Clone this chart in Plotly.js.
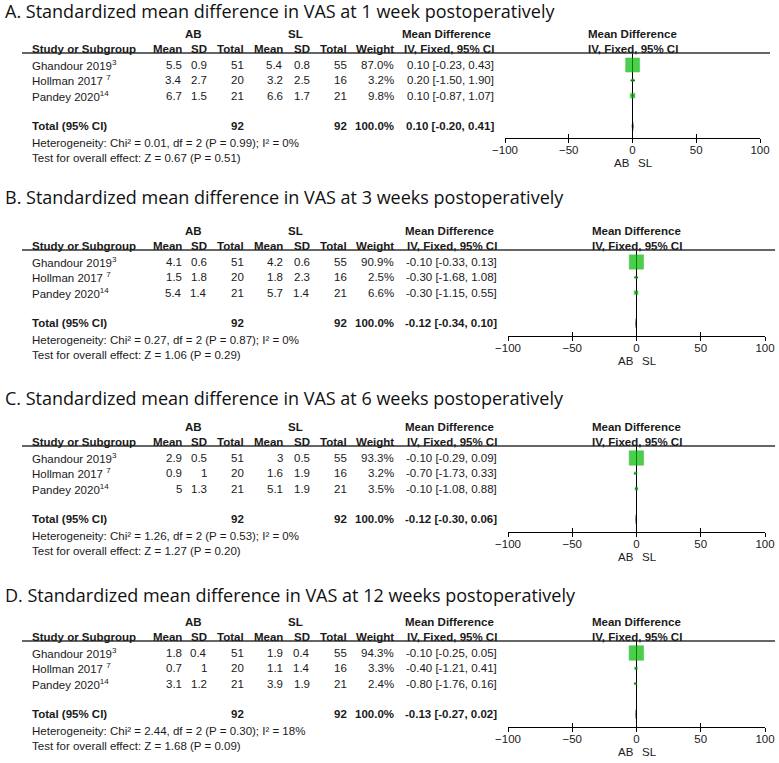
<!DOCTYPE html>
<html><head><meta charset="utf-8">
<script src="https://cdn.plot.ly/plotly-3.0.1.min.js"></script>
<style>html,body{margin:0;padding:0;background:#fff}#chart{width:779px;height:763px}</style>
</head><body><div id="chart"></div><script>
// ---------------- data ----------------
const panelTitles = [
  'A. Standardized mean difference in VAS at 1 week postoperatively',
  'B. Standardized mean difference in VAS at 3 weeks postoperatively',
  'C. Standardized mean difference in VAS at 6 weeks postoperatively',
  'D. Standardized mean difference in VAS at 12 weeks postoperatively'
];
const studies = ['Ghandour 2019', 'Hollman 2017 ', 'Pandey 2020'];
const studyRefs = ['3', '7', '14'];
const abMean = [[5.5, 3.4, 6.7], [4.1, 1.5, 5.4], [2.9, 0.9, 5], [1.8, 0.7, 3.1]];
const abSD   = [[0.9, 2.7, 1.5], [0.6, 1.8, 1.4], [0.5, 1, 1.3], [0.4, 1, 1.2]];
const abTotal = [51, 20, 21];
const slMean = [[5.4, 3.2, 6.6], [4.2, 1.8, 5.7], [3, 1.6, 5.1], [1.9, 1.1, 3.9]];
const slSD   = [[0.8, 2.5, 1.7], [0.6, 2.3, 1.4], [0.5, 1.9, 1.9], [0.4, 1.4, 1.9]];
const slTotal = [55, 16, 21];
const weights = [[87.0, 3.2, 9.8], [90.9, 2.5, 6.6], [93.3, 3.2, 3.5], [94.3, 3.3, 2.4]];
const meanDiff = [[0.10, 0.20, 0.10], [-0.10, -0.30, -0.30], [-0.10, -0.70, -0.10], [-0.10, -0.40, -0.80]];
const ciLow  = [[-0.23, -1.50, -0.87], [-0.33, -1.68, -1.15], [-0.29, -1.73, -1.08], [-0.25, -1.21, -1.76]];
const ciHigh = [[0.43, 1.90, 1.07], [0.13, 1.08, 0.55], [0.09, 0.33, 0.88], [0.05, 0.41, 0.16]];
const totalMD   = [0.10, -0.12, -0.12, -0.13];
const totalLow  = [-0.20, -0.34, -0.30, -0.27];
const totalHigh = [0.41, 0.10, 0.06, 0.02];
const totalAB = 92, totalSL = 92;
const chi2 = [0.01, 0.27, 1.26, 2.44];
const hetDf = [2, 2, 2, 2];
const hetP = ['0.99', '0.87', '0.53', '0.30'];
const iSq = [0, 0, 0, 18];
const zVal = ['0.67', '1.06', '1.27', '1.68'];
const zP = ['0.51', '0.29', '0.20', '0.09'];
const xTicks = [-100, -50, 0, 50, 100];
const favourLabels = ['AB', 'SL'];

// ---------------- layout constants ----------------
const W = 779, H = 763;
const rowH = 15.33;
const rowTop = [65, 262, 458, 653];
const titleY = [11, 197, 398, 595];
const axisOff = [73, 74, 74, 74];
const forestX = [[505, 760], [508, 765], [508, 765], [508, 765]];
const ciRight = [494, 497, 497, 497];
const lineRight = [770, 775, 775, 775];
const TF = 'Liberation Sans, Arial, sans-serif';
const TS = 11.5;
const TC = '#1a1a1a';
const px = v => v / W;
const py = v => 1 - v / H;
const fmt2 = v => v.toFixed(2);
const ciText = (m, l, h) => fmt2(m) + ' [' + fmt2(l) + ', ' + fmt2(h) + ']';

const traces = [];
const annotations = [];
const shapes = [];
const layout = {
  width: W, height: H, margin: {l: 0, r: 0, t: 0, b: 0},
  paper_bgcolor: '#fff', plot_bgcolor: '#fff', showlegend: false,
  font: {family: TF, size: TS, color: TC}
};

function ann(text, x, y, xanchor, opts) {
  annotations.push(Object.assign({
    text: text, x: x, y: y, xref: 'paper', yref: 'paper', xanchor: xanchor, yanchor: 'middle',
    showarrow: false, borderpad: 0, borderwidth: 0,
    font: {family: TF, size: TS, color: TC}
  }, opts || {}));
}
const bold = t => '<b>' + t + '</b>';

for (let k = 0; k < 4; k++) {
  const s = k === 0 ? '' : String(k + 1);
  const xo = 'x' + (k + 5);
  const top = rowTop[k];
  const axPx = top + axisOff[k];
  const hdrPx = top - 12;
  const [fx0, fx1] = forestX[k];
  const zeroPx = (fx0 + fx1) / 2;
  const yRef = 'y' + s;

  layout['yaxis' + s] = {
    domain: [py(axPx), py(hdrPx)],
    range: [(axPx - top) / rowH, (hdrPx - top) / rowH],
    visible: false, fixedrange: true
  };
  layout['xaxis' + s] = {
    domain: [px(fx0), px(fx1)], range: [-100, 100], anchor: yRef,
    showline: true, linecolor: '#000', linewidth: 1,
    ticks: 'outside', ticklen: 4, tickwidth: 1, tickcolor: '#000',
    tickvals: xTicks, tickfont: {family: TF, size: 11.5, color: TC}, ticklabelstandoff: -3,
    showgrid: false, zeroline: true, zerolinecolor: '#000', zerolinewidth: 1, fixedrange: true
  };
  layout['xaxis' + (k + 5)] = {
    overlaying: 'x' + s, anchor: yRef, range: [-100, 100],
    ticks: 'inside', ticklen: 4, tickwidth: 1, tickcolor: '#000', tickvals: xTicks,
    showticklabels: false, showline: false, showgrid: false, zeroline: false, fixedrange: true
  };

  const rows = [0, 1, 2];
  // CI lines + squares
  traces.push({
    type: 'scatter', mode: 'markers', xaxis: 'x' + s, yaxis: yRef,
    x: meanDiff[k], y: rows,
    error_x: {
      type: 'data', symmetric: false,
      array: meanDiff[k].map((m, i) => ciHigh[k][i] - m),
      arrayminus: meanDiff[k].map((m, i) => m - ciLow[k][i]),
      color: '#000', thickness: 1, width: 0
    },
    marker: {symbol: 'square', color: '#00bb00', size: weights[k].map(w => 1.5 * Math.sqrt(w)),
      line: {color: '#00a000', width: 0.5}},
    hoverinfo: 'skip'
  });
  // diamond
  const tr = 4;
  traces.push({
    type: 'scatter', mode: 'lines', xaxis: 'x' + s, yaxis: yRef,
    x: [totalLow[k], totalMD[k], totalHigh[k], totalMD[k], totalLow[k]],
    y: [tr, tr - 0.3, tr, tr + 0.3, tr],
    fill: 'toself', fillcolor: '#000', line: {color: '#000', width: 1}, hoverinfo: 'skip'
  });
  // dummy trace for overlay axis
  traces.push({type: 'scatter', mode: 'markers', xaxis: xo, yaxis: yRef, x: [0], y: [tr],
    marker: {size: 1, opacity: 0}, hoverinfo: 'skip'});

  // header line
  shapes.push({type: 'line', xref: 'paper', yref: yRef + ' domain', x0: px(22), x1: px(lineRight[k]), y0: 1, y1: 1,
    line: {color: '#333', width: 1.5}});

  // title
  ann(panelTitles[k], px(5), py(titleY[k]), 'left', {font: {family: 'Open Sans, Noto Sans, sans-serif', size: 18, color: '#111'}});

  // headers
  const h1 = top - 31, h2 = top - 16;
  ann(bold('AB'), px(193), py(h1), 'center');
  ann(bold('SL'), px(295), py(h1), 'center');
  ann(bold('Mean Difference'), px(ciRight[k] - 48), py(h1), 'center');
  ann(bold('Mean Difference'), px(zeroPx), py(h1), 'center');
  ann(bold('Study or Subgroup'), px(32), py(h2), 'left');
  ann(bold('Mean'), px(182), py(h2), 'right');
  ann(bold('SD'), px(207), py(h2), 'right');
  ann(bold('Total'), px(244), py(h2), 'right');
  ann(bold('Mean'), px(283), py(h2), 'right');
  ann(bold('SD'), px(310), py(h2), 'right');
  ann(bold('Total'), px(347), py(h2), 'right');
  ann(bold('Weight'), px(394), py(h2), 'right');
  ann(bold('IV, Fixed, 95% CI'), px(ciRight[k]), py(h2), 'right');
  ann(bold('IV, Fixed, 95% CI'), px(zeroPx), py(h2), 'center');

  // study rows (y in row units on the panel axis)
  const rowAnn = (text, x, r, xanchor) => ann(text, px(x), r, xanchor, {yref: yRef});
  rows.forEach(i => {
    rowAnn(studies[i] + '<sup>' + studyRefs[i] + '</sup>', 32, i, 'left');
    rowAnn(String(abMean[k][i]), 182, i, 'right');
    rowAnn(String(abSD[k][i]), 207, i, 'right');
    rowAnn(String(abTotal[i]), 244, i, 'right');
    rowAnn(String(slMean[k][i]), 283, i, 'right');
    rowAnn(String(slSD[k][i]), 310, i, 'right');
    rowAnn(String(slTotal[i]), 347, i, 'right');
    rowAnn(weights[k][i].toFixed(1) + '%', 394, i, 'right');
    rowAnn(ciText(meanDiff[k][i], ciLow[k][i], ciHigh[k][i]), ciRight[k], i, 'right');
  });
  rowAnn(bold('Total (95% CI)'), 32, tr, 'left');
  rowAnn(bold(String(totalAB)), 244, tr, 'right');
  rowAnn(bold(String(totalSL)), 347, tr, 'right');
  rowAnn(bold('100.0%'), 394, tr, 'right');
  rowAnn(bold(ciText(totalMD[k], totalLow[k], totalHigh[k])), ciRight[k], tr, 'right');

  ann('Heterogeneity: Chi² = ' + chi2[k].toFixed(2) + ', df = ' + hetDf[k] + ' (P = ' + hetP[k] + '); I² = ' + iSq[k] + '%',
      px(32), py(top + 78), 'left');
  ann('Test for overall effect: Z = ' + zVal[k] + ' (P = ' + zP[k] + ')', px(32), py(top + 92.5), 'left');

  // favour labels
  ann(favourLabels[0], px(zeroPx - 11), py(axPx + 25), 'center');
  ann(favourLabels[1], px(zeroPx + 13), py(axPx + 25), 'center');
}

layout.annotations = annotations;
layout.shapes = shapes;
Plotly.newPlot('chart', traces, layout, {staticPlot: true, displayModeBar: false});
</script></body></html>
